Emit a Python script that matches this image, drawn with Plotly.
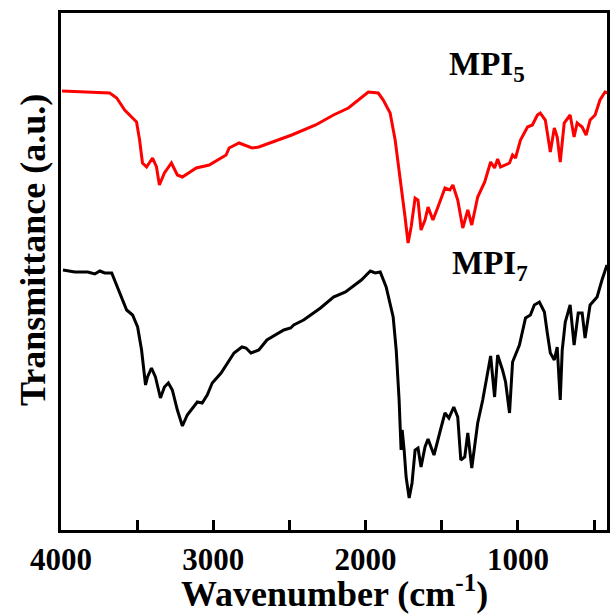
import plotly.graph_objects as go

# MPI5 (red) spectrum: wavenumber (cm-1) and transmittance (a.u.)
mpi5_wn = [3993, 3680, 3634, 3582, 3504, 3484, 3465, 3438, 3399, 3373, 3354, 3321, 3275, 3236,
           3203, 3112, 3027, 2916, 2896, 2831, 2746, 2701, 2485, 2328, 2211, 2113, 1982, 1917,
           1884, 1839, 1806, 1773, 1741, 1721, 1701, 1675, 1656, 1636, 1610, 1590, 1558, 1525,
           1479, 1447, 1427, 1395, 1362, 1329, 1303, 1264, 1218, 1179, 1153, 1133, 1114, 1055,
           1035, 1016, 983, 937, 905, 872, 853, 820, 787, 761, 742, 722, 696, 657, 631, 611,
           578, 552, 526, 493, 461, 428, 408]
mpi5_t = [439, 437, 432, 420, 408, 390, 367, 363, 372, 363, 345, 357, 367, 355,
          353, 362, 365, 375, 382, 387, 382, 383, 395, 405, 415, 422, 438, 437,
          430, 417, 390, 353, 313, 287, 303, 332, 330, 300, 310, 323, 310, 323,
          342, 340, 345, 330, 302, 320, 305, 333, 348, 368, 362, 371, 363, 367,
          375, 372, 390, 403, 405, 415, 417, 410, 378, 402, 393, 368, 407, 415, 393, 407,
          403, 395, 410, 415, 430, 438, 437]

# MPI7 (black) spectrum
mpi7_wn = [3987, 3909, 3824, 3778, 3745, 3713, 3667, 3628, 3569, 3530, 3497, 3471, 3445, 3432,
           3406, 3380, 3347, 3321, 3295, 3269, 3236, 3203, 3171, 3105, 3073, 3040, 3007, 2949,
           2864, 2812, 2785, 2753, 2701, 2648, 2537, 2492, 2472, 2407, 2296, 2211, 2132, 2028,
           1969, 1937, 1904, 1865, 1819, 1799, 1780, 1767, 1760, 1747, 1734, 1714, 1695, 1675,
           1656, 1636, 1610, 1590, 1551, 1512, 1479, 1453, 1421, 1395, 1375, 1349, 1329, 1303,
           1264, 1231, 1199, 1179, 1153, 1133, 1101, 1081, 1055, 1035, 990, 950, 918, 892, 859,
           826, 807, 787, 761, 742, 722, 709, 689, 657, 631, 604, 578, 559, 526, 480, 448, 415]
mpi7_t = [260, 258, 258, 256, 259, 257, 257, 243, 220, 215, 203, 180, 145, 153,
          162, 153, 132, 143, 147, 140, 120, 104, 115, 128, 127, 135, 147, 157,
          177, 183, 182, 177, 180, 190, 200, 202, 205, 210, 222, 233, 238, 250,
          259, 257, 258, 243, 213, 180, 130, 80, 100, 80, 53, 32, 47, 80,
          82, 63, 83, 91, 75, 98, 117, 112, 123, 113, 70, 73, 97, 62,
          107, 130, 157, 174, 133, 175, 160, 148, 117, 168, 185, 212, 215, 225, 228,
          218, 197, 177, 170, 183, 130, 180, 208, 225, 185, 217, 217, 192, 225, 233, 250, 265]

x_ticks = [4000, 3500, 3000, 2500, 2000, 1500, 1000, 500]
x_labels = ["4000", "", "3000", "", "2000", "", "1000", ""]
x_range = [4000, 415]
y_range = [0, 517]

labels = ["MPI<sub>5</sub>", "MPI<sub>7</sub>"]
label_pos = [(1465, 464), (1445, 265)]

FONT = "Liberation Serif"

fig = go.Figure()
fig.add_trace(go.Scatter(x=mpi5_wn, y=mpi5_t, mode="lines",
                         line=dict(color="#ff0000", width=3), showlegend=False))
fig.add_trace(go.Scatter(x=mpi7_wn, y=mpi7_t, mode="lines",
                         line=dict(color="#000000", width=3), showlegend=False))

for txt, (lx, ly) in zip(labels, label_pos):
    fig.add_annotation(x=lx, y=ly, xref="x", yref="y", text="<b>" + txt + "</b>",
                       showarrow=False, xanchor="left", yanchor="middle",
                       font=dict(family=FONT, size=33, color="black"))

fig.add_annotation(x=0, y=0.5416, xref="paper", yref="paper", xshift=-28,
                   text="<b>Transmittance (a.u.)</b>", textangle=-90, showarrow=False,
                   xanchor="center", yanchor="middle",
                   font=dict(family=FONT, size=36, color="black"))
fig.add_annotation(x=0.5, y=0, xref="paper", yref="paper", yshift=-61,
                   text="<b>Wavenumber (cm<sup>-1</sup>)</b>", showarrow=False,
                   xanchor="center", yanchor="middle",
                   font=dict(family=FONT, size=36, color="black"))

fig.update_layout(
    width=611, height=614,
    margin=dict(l=61, r=1, t=13, b=84),
    paper_bgcolor="white", plot_bgcolor="white",
    xaxis=dict(range=x_range, tickmode="array", tickvals=x_ticks, ticktext=x_labels,
               ticks="inside", ticklen=10, tickwidth=2.5, tickcolor="black",
               showline=True, linecolor="black", linewidth=2.5, mirror=True,
               showgrid=False, zeroline=False,
               tickfont=dict(family=FONT, size=31, color="black", weight="bold")),
    yaxis=dict(range=y_range, showticklabels=False, ticks="",
               showline=True, linecolor="black", linewidth=2.5, mirror=True,
               showgrid=False, zeroline=False),
)

fig.write_html("out.html")
